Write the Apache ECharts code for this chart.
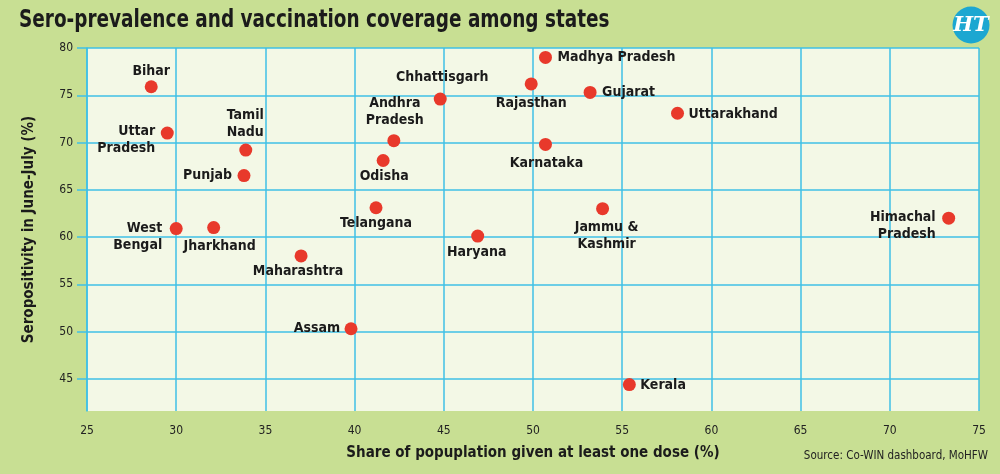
<!DOCTYPE html>
<html>
<head>
<meta charset="utf-8">
<title>Sero-prevalence and vaccination coverage among states</title>
<script src="https://cdn.jsdelivr.net/npm/echarts@6/dist/echarts.min.js"></script>
<style>
	html, body { margin: 0; padding: 0; background: #c8df93; }
	#chart { width: 1000px; height: 474px; }
</style>
</head>
<body>
<div id="chart"></div>
<script>
// Data
var states = ['Bihar', 'Uttar\nPradesh', 'Tamil\nNadu', 'Punjab', 'West\nBengal', 'Jharkhand', 'Maharashtra',
	'Assam', 'Telangana', 'Odisha', 'Andhra\nPradesh', 'Chhattisgarh', 'Haryana', 'Rajasthan',
	'Madhya Pradesh', 'Karnataka', 'Gujarat', 'Jammu &\nKashmir', 'Kerala', 'Uttarakhand', 'Himachal\nPradesh'];
var vaccinated = [28.6, 29.5, 33.9, 33.8, 30.0, 32.1, 37.0,
	39.8, 41.2, 41.6, 42.2, 44.8, 46.9, 49.9,
	50.7, 50.7, 53.2, 53.9, 55.4, 58.1, 73.3];
var seropositivity = [75.9, 71.0, 69.2, 66.5, 60.9, 61.0, 58.0,
	50.3, 63.1, 68.1, 70.2, 74.6, 60.1, 76.2,
	79.0, 69.8, 75.3, 63.0, 44.4, 73.1, 62.0];
var xTicks = [25, 30, 35, 40, 45, 50, 55, 60, 65, 70, 75];
var yTicks = [45, 50, 55, 60, 65, 70, 75, 80];

// label placement: offset from dot centre + alignment
var labelPlace = {
	'Bihar': [0, -15, 'center'],
	'Uttar\nPradesh': [-12, 7, 'right'],
	'Tamil\nNadu': [18, -26, 'right'],
	'Punjab': [-12, 0, 'right'],
	'West\nBengal': [-14, 8, 'right'],
	'Jharkhand': [6, 19, 'center'],
	'Maharashtra': [-3, 15, 'center'],
	'Assam': [-11, 0, 'right'],
	'Telangana': [0, 16, 'center'],
	'Odisha': [1, 16, 'center'],
	'Andhra\nPradesh': [1, -29, 'center'],
	'Chhattisgarh': [2, -22, 'center'],
	'Haryana': [-1, 16, 'center'],
	'Rajasthan': [0, 19, 'center'],
	'Madhya Pradesh': [12, 0, 'left'],
	'Karnataka': [1, 19, 'center'],
	'Gujarat': [12, 0, 'left'],
	'Jammu &\nKashmir': [4, 27, 'center'],
	'Kerala': [11, 1, 'left'],
	'Uttarakhand': [11, 1, 'left'],
	'Himachal\nPradesh': [-13, 8, 'right']
};

var narrow = '"DejaVu Sans Condensed", "Roboto", sans-serif';
var gridBlue = '#3fc1e6';
var ink = '#1b1b1b';

var points = [];
for (var i = 0; i < states.length; i++) {
	var p = labelPlace[states[i]];
	points.push({
		name: states[i],
		value: [vaccinated[i], seropositivity[i]],
		label: {
			offset: [p[0], p[1]],
			align: p[2]
		}
	});
}

var chart = echarts.init(document.getElementById('chart'));

var option = {
	backgroundColor: '#c8df93',
	animation: false,
	textStyle: { fontFamily: narrow },

	grid: {
		left: 87,
		right: 21,
		top: 48,
		bottom: 63,
		show: true,
		borderWidth: 0,
		backgroundColor: '#f3f8e6'
	},

	xAxis: {
		type: 'value',
		min: 25,
		max: 75,
		name: 'Share of popuplation given at least one dose (%)',
		nameLocation: 'middle',
		nameGap: 35,
		nameTextStyle: {
			fontFamily: narrow,
			fontSize: 15,
			fontWeight: 'bold',
			color: ink
		},
		axisLine: { show: false },
		axisTick: { show: false, customValues: xTicks },
		axisLabel: {
			customValues: xTicks,
			margin: 14,
			fontSize: 12,
			color: '#222'
		},
		splitLine: {
			show: true,
			lineStyle: { color: gridBlue, width: 1.5 }
		}
	},

	yAxis: {
		type: 'value',
		min: 41.6,
		max: 80,
		name: 'Seropositivity in June-July (%)',
		nameLocation: 'middle',
		nameRotate: 90,
		nameGap: 50,
		nameTextStyle: {
			fontFamily: narrow,
			fontSize: 15,
			fontWeight: 'bold',
			color: ink
		},
		axisLine: {
			show: true,
			lineStyle: { color: gridBlue, width: 1.5 }
		},
		axisTick: {
			show: true,
			customValues: yTicks,
			length: 10,
			lineStyle: { color: gridBlue, width: 1.5 }
		},
		axisLabel: {
			customValues: yTicks,
			margin: 14,
			fontSize: 12,
			color: '#222'
		},
		splitLine: {
			show: true,
			lineStyle: { color: gridBlue, width: 1.5 }
		}
	},

	graphic: [
		{
			// title, squeezed to the width of the original condensed face
			type: 'text',
			x: 19,
			y: 20,
			scaleX: 0.82,
			style: {
				text: 'Sero-prevalence and vaccination coverage among states',
				fill: ink,
				font: 'bold 25px ' + narrow,
				align: 'left',
				verticalAlign: 'middle'
			}
		},
		{
			type: 'circle',
			shape: { cx: 971, cy: 25, r: 18.5 },
			style: { fill: '#1ca7d1' }
		},
		{
			type: 'text',
			x: 971,
			y: 26,
			style: {
				text: 'HT',
				fill: '#fff',
				font: 'italic bold 21px "DejaVu Serif", serif',
				align: 'center',
				verticalAlign: 'middle'
			}
		},
		{
			type: 'text',
			x: 988,
			y: 456,
			style: {
				text: 'Source: Co-WIN dashboard, MoHFW',
				fill: '#222',
				font: '11.5px ' + narrow,
				align: 'right',
				verticalAlign: 'middle'
			}
		}
	],

	series: [{
		type: 'scatter',
		symbolSize: 13,
		itemStyle: { color: '#e8392b', opacity: 1 },
		label: {
			show: true,
			position: 'inside',
			formatter: '{b}',
			verticalAlign: 'middle',
			fontFamily: narrow,
			fontSize: 14,
			fontWeight: 'bold',
			lineHeight: 17,
			color: ink
		},
		emphasis: { disabled: true },
		data: points
	}]
};

chart.setOption(option);
</script>
</body>
</html>
